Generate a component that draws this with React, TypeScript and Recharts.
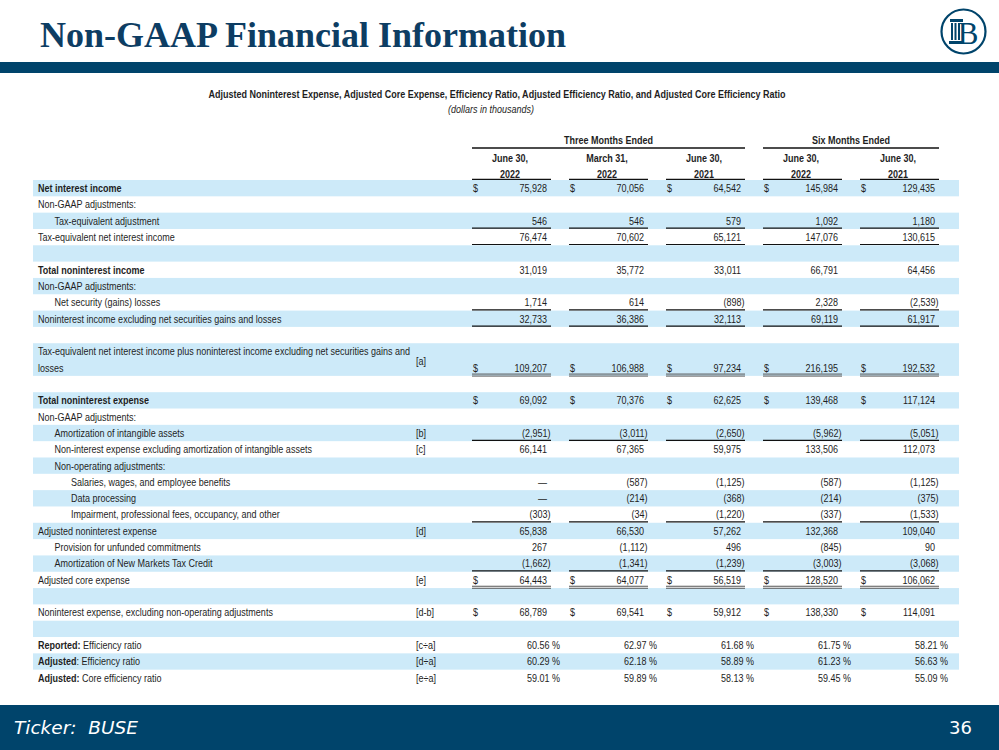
import React from 'react'
import { ScatterChart, Scatter, XAxis, YAxis, ReferenceArea } from 'recharts'

// column headers
const periodMonths = ['June 30,', 'March 31,', 'June 30,', 'June 30,', 'June 30,']
const periodYears = ['2022', '2022', '2021', '2022', '2021']
const groupLabels = ['Three Months Ended', 'Six Months Ended']
const groupSpans = [[1, 3], [4, 5]]

// row labels, one per table line
const rowLabels = [
  'Net interest income',
  'Non-GAAP adjustments:',
  'Tax-equivalent adjustment',
  'Tax-equivalent net interest income',
  '',
  'Total noninterest income',
  'Non-GAAP adjustments:',
  'Net security (gains) losses',
  'Noninterest income excluding net securities gains and losses',
  '',
  'Tax-equivalent net interest income plus noninterest income excluding net securities gains and',
  'losses',
  '',
  'Total noninterest expense',
  'Non-GAAP adjustments:',
  'Amortization of intangible assets',
  'Non-interest expense excluding amortization of intangible assets',
  'Non-operating adjustments:',
  'Salaries, wages, and employee benefits',
  'Data processing',
  'Impairment, professional fees, occupancy, and other',
  'Adjusted noninterest expense',
  'Provision for unfunded commitments',
  'Amortization of New Markets Tax Credit',
  'Adjusted core expense',
  '',
  'Noninterest expense, excluding non-operating adjustments',
  '',
  'Reported: Efficiency ratio',
  'Adjusted: Efficiency ratio',
  'Adjusted: Core efficiency ratio',
]
const rowIndent = [0, 0, 1, 0, 0, 0, 0, 1, 0, 0, 0, 0, 0, 0, 0, 1, 1, 1, 2, 2, 2, 0, 1, 1, 0, 0, 0, 0, 0, 0, 0]
const boldLead: Record<number, string> = {
  0: 'Net interest income',
  5: 'Total noninterest income',
  13: 'Total noninterest expense',
  28: 'Reported:',
  29: 'Adjusted',
  30: 'Adjusted:',
}
const refRows = [11, 15, 16, 21, 24, 26, 28, 29, 30]
const refLabels = ['[a]', '[b]', '[c]', '[d]', '[e]', '[d-b]', '[c÷a]', '[d÷a]', '[e÷a]']
const wrappedRows = [11]

// values (dollars in thousands, ratios in %)
const valueRows = [0, 2, 3, 5, 7, 8, 11, 13, 15, 16, 18, 19, 20, 21, 22, 23, 24, 26, 28, 29, 30]
const q2_2022 = [75928, 546, 76474, 31019, 1714, 32733, 109207, 69092, -2951, 66141, 0, 0, -303, 65838, 267, -1662, 64443, 68789, 60.56, 60.29, 59.01]
const q1_2022 = [70056, 546, 70602, 35772, 614, 36386, 106988, 70376, -3011, 67365, -587, -214, -34, 66530, -1112, -1341, 64077, 69541, 62.97, 62.18, 59.89]
const q2_2021 = [64542, 579, 65121, 33011, -898, 32113, 97234, 62625, -2650, 59975, -1125, -368, -1220, 57262, 496, -1239, 56519, 59912, 61.68, 58.89, 58.13]
const ytd_2022 = [145984, 1092, 147076, 66791, 2328, 69119, 216195, 139468, -5962, 133506, -587, -214, -337, 132368, -845, -3003, 128520, 138330, 61.75, 61.23, 59.45]
const ytd_2021 = [129435, 1180, 130615, 64456, -2539, 61917, 192532, 117124, -5051, 112073, -1125, -375, -1533, 109040, 90, -3068, 106062, 114091, 58.21, 56.63, 55.09]
const columns = [q2_2022, q1_2022, q2_2021, ytd_2022, ytd_2021]

const dollarRows = [0, 11, 13, 24, 26]
const percentRows = [28, 29, 30]
const singleRuleRows = [2, 3, 7, 8, 15, 20, 23]
const doubleRuleRows = [11, 24]
const shadedSpans = [[0, 0], [2, 2], [4, 4], [6, 6], [8, 8], [10, 11], [13, 13], [15, 15], [17, 17], [19, 19], [21, 21], [23, 23], [25, 25], [27, 27], [29, 29]]

const NAVY = '#00446b'
const TITLE_BLUE = '#0d3d63'
const SHADE = '#cdeaf9'
const INK = '#1e1e1e'
const TABLE_FONT = "'Liberation Sans', Arial, sans-serif"
const FS = 11
const SX = 0.82 // narrow the sans face to look like Arial Narrow
const COL_W = 97
const RULE_W = 79
const LABEL_W = 439
const ROW_H = 16.32

const cells = columns.flatMap((col, c) =>
  col.map((v, i) => ({ col: c + 1, row: valueRows[i], v }))
)

function fmt(v: number, row: number) {
  if (percentRows.includes(row)) return `${v.toFixed(2)} %`
  if (v === 0) return '—'
  const s = Math.abs(v).toLocaleString('en-US')
  return v < 0 ? `(${s})` : s
}

function NT({ x, y, anchor = 'start', weight, italic, children }: any) {
  return (
    <text
      transform={`translate(${x} ${y}) scale(${SX} 1)`}
      textAnchor={anchor}
      dy="0.35em"
      fontWeight={weight}
      fontStyle={italic ? 'italic' : undefined}
    >
      {children}
    </text>
  )
}

function CellMark(props: any) {
  const { cx, cy, payload } = props
  const left = cx - COL_W / 2
  const row = payload.row
  const v = payload.v
  const isPct = percentRows.includes(row)
  const rightX = isPct ? left + 88 : v < 0 ? left + 78.5 : left + 75
  const ruleY = cy + ROW_H / 2 - 0.8
  return (
    <g fontFamily={TABLE_FONT} fontSize={FS} fill={INK}>
      {dollarRows.includes(row) && <NT x={left + 1} y={cy}>$</NT>}
      <NT x={rightX} y={cy} anchor="end">{fmt(v, row)}</NT>
      {singleRuleRows.includes(row) && (
        <line x1={left} x2={left + RULE_W} y1={ruleY} y2={ruleY} stroke="#111" strokeWidth={1.2} />
      )}
      {doubleRuleRows.includes(row) && (
        <g stroke="#555" strokeWidth={1}>
          <line x1={left} x2={left + RULE_W} y1={ruleY - 1} y2={ruleY - 1} />
          <line x1={left} x2={left + RULE_W} y1={ruleY + 1} y2={ruleY + 1} />
        </g>
      )}
    </g>
  )
}

function PeriodTick(props: any) {
  const { x, y, payload } = props
  const i = payload.value - 1
  const left = x - COL_W / 2
  const g = groupSpans.findIndex((s) => s[0] === i + 1)
  let group = null
  if (g >= 0) {
    const [a, b] = groupSpans[g]
    const w = (b - a) * COL_W + RULE_W
    group = (
      <g>
        <NT x={left + w / 2} y={y - 40} anchor="middle" weight="bold">{groupLabels[g]}</NT>
        <line x1={left} x2={left + w} y1={y - 32} y2={y - 32} stroke="#111" strokeWidth={1.3} />
      </g>
    )
  }
  return (
    <g fontFamily={TABLE_FONT} fontSize={FS} fill={INK}>
      {group}
      <NT x={left + 38} y={y - 22} anchor="middle" weight="bold">{periodMonths[i]}</NT>
      <NT x={left + 38} y={y - 6} anchor="middle" weight="bold">{periodYears[i]}</NT>
      <line x1={left} x2={left + RULE_W} y1={y - 0.6} y2={y - 0.6} stroke="#111" strokeWidth={1.3} />
    </g>
  )
}

function RowTick(props: any) {
  const { y, payload } = props
  const r = payload.value
  const label = rowLabels[r] || ''
  const lead = boldLead[r] || ''
  const rest = label.slice(lead.length)
  const ri = refRows.indexOf(r)
  const refY = wrappedRows.includes(r) ? y - ROW_H / 2 + 2 : y
  return (
    <g fontFamily={TABLE_FONT} fontSize={FS} fill={INK}>
      {label && (
        <NT x={38 + rowIndent[r] * 16.5} y={y}>
          {lead && <tspan fontWeight="bold">{lead}</tspan>}
          {rest}
        </NT>
      )}
      {ri >= 0 && <NT x={416} y={refY}>{refLabels[ri]}</NT>}
    </g>
  )
}

function ShadeRect(props: any) {
  const { x, y, width, height } = props
  return <rect x={x - LABEL_W} y={y} width={width + LABEL_W + 2} height={height} fill={SHADE} />
}

function Header() {
  return (
    <svg width={999} height={750} style={{ position: 'absolute', left: 0, top: 0 }}>
      <rect x={0} y={0} width={999} height={750} fill="#fff" />
      <text x={40} y={47} fontFamily="'Liberation Serif', serif" fontWeight="bold" fontSize={36} fill={TITLE_BLUE}>
        Non-GAAP Financial Information
      </text>
      <rect x={0} y={62} width={999} height={11} fill={NAVY} />
      <circle cx={963.5} cy={31.5} r={22} fill="#fff" stroke={NAVY} strokeWidth={2.2} />
      <g fill={NAVY}>
        <rect x={950} y={19} width={13} height={3} />
        <rect x={951} y={23} width={2} height={17} />
        <rect x={954.5} y={23} width={2} height={17} />
        <rect x={958} y={23} width={2} height={17} />
        <rect x={949} y={41} width={14} height={3} />
      </g>
      <text x={968} y={44} textAnchor="middle" fontFamily="'Liberation Serif', serif" fontSize={31} fill={NAVY}>B</text>
      <g fontFamily={TABLE_FONT} fontSize={FS} fill={INK}>
        <NT x={497} y={94} anchor="middle" weight="bold">
          Adjusted Noninterest Expense, Adjusted Core Expense, Efficiency Ratio, Adjusted Efficiency Ratio, and Adjusted Core Efficiency Ratio
        </NT>
        <NT x={491} y={109} anchor="middle" italic>(dollars in thousands)</NT>
      </g>
      <rect x={0} y={705} width={999} height={45} fill={NAVY} />
      <text x={14} y={734} fontFamily="'DejaVu Sans', sans-serif" fontStyle="italic" fontSize={18.5} fill="#fff" style={{ whiteSpace: 'pre' }}>
        {'Ticker:  BUSE'}
      </text>
      <text x={972} y={734} textAnchor="end" fontFamily="'DejaVu Sans', sans-serif" fontSize={18} fill="#fff">36</text>
    </svg>
  )
}

export default function App() {
  const rowTicks = rowLabels.map((_, i) => i)
  return (
    <div style={{ position: 'absolute', left: 0, top: 0, width: 999, height: 750, overflow: 'hidden', background: '#fff' }}>
      <Header />
      <div style={{ position: 'absolute', left: 0, top: 0 }}>
        <ScatterChart width={999} height={700} margin={{ top: 140, right: 42, bottom: 14, left: 33 }}>
          <XAxis
            type="number"
            dataKey="col"
            orientation="top"
            domain={[0.5, 5.5]}
            ticks={[1, 2, 3, 4, 5]}
            interval={0}
            height={40}
            tickSize={0}
            tickMargin={0}
            tickLine={false}
            axisLine={false}
            tick={<PeriodTick />}
          />
          <YAxis
            type="number"
            dataKey="row"
            reversed
            domain={[-0.5, rowLabels.length - 0.5]}
            ticks={rowTicks}
            interval={0}
            width={LABEL_W}
            tickLine={false}
            axisLine={false}
            tick={<RowTick />}
          />
          {shadedSpans.map(([a, b]) => (
            <ReferenceArea key={a} y1={a - 0.5} y2={b + 0.5} shape={<ShadeRect />} ifOverflow="visible" />
          ))}
          <Scatter data={cells} isAnimationActive={false} shape={<CellMark />} />
        </ScatterChart>
      </div>
    </div>
  )
}
